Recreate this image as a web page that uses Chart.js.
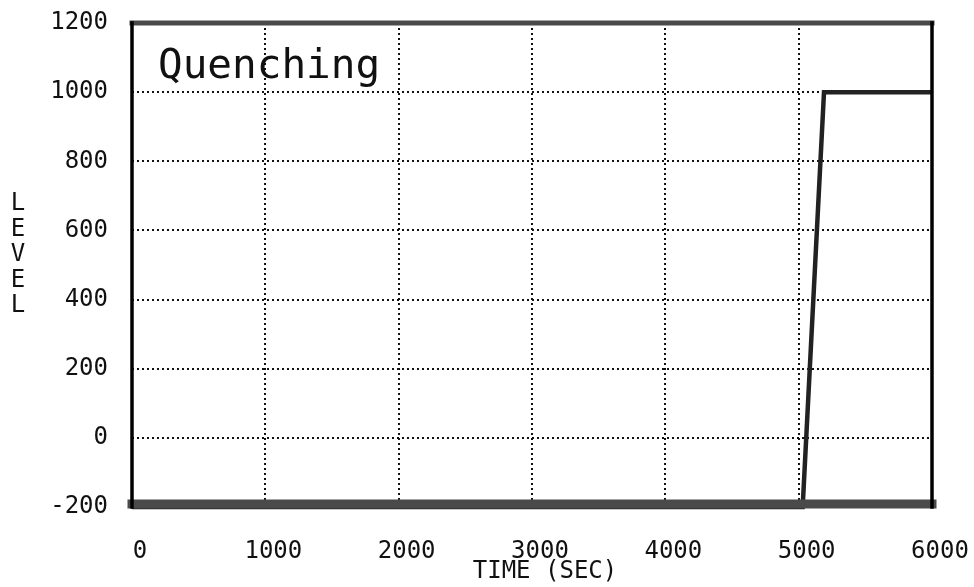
<!DOCTYPE html>
<html>
<head>
<meta charset="utf-8">
<script src="https://cdn.jsdelivr.net/npm/chart.js@4"></script>
<style>
  html, body { margin: 0; padding: 0; background: #fff; }
  #wrap { width: 974px; height: 587px; position: relative; }
</style>
</head>
<body>
<div id="wrap"><canvas id="c" width="974" height="587"></canvas></div>
<script>
// Data
const timeSec = [0, 5030, 5190, 6000];
const levelValues = [-200, -200, 1000, 1000];
const xTicks = [0, 1000, 2000, 3000, 4000, 5000, 6000];
const yTicks = [-200, 0, 200, 400, 600, 800, 1000, 1200];
const chartTitle = 'Quenching';
const xTitle = 'TIME (SEC)';
const yTitle = 'LEVEL';

const MONO = '"DejaVu Sans Mono", "Liberation Mono", monospace';

const points = timeSec.map((t, i) => ({ x: t, y: levelValues[i] }));

const decor = {
  id: 'decor',
  afterDatasetsDraw(chart) {
    const { ctx, chartArea: a } = chart;
    ctx.save();
    // frame
    ctx.lineCap = 'square';
    ctx.strokeStyle = '#4a4a4a';
    ctx.lineWidth = 5;
    ctx.beginPath(); ctx.moveTo(a.left, a.top); ctx.lineTo(a.right, a.top); ctx.stroke();
    ctx.lineWidth = 9;
    ctx.beginPath(); ctx.moveTo(a.left, a.bottom - 3); ctx.lineTo(a.right, a.bottom - 3); ctx.stroke();
    ctx.strokeStyle = '#000';
    ctx.lineWidth = 3.5;
    ctx.beginPath(); ctx.moveTo(a.left, a.top); ctx.lineTo(a.left, a.bottom); ctx.stroke();
    ctx.beginPath(); ctx.moveTo(a.right, a.top); ctx.lineTo(a.right, a.bottom); ctx.stroke();
    // in-plot title
    ctx.fillStyle = '#111';
    ctx.font = '41px ' + MONO;
    ctx.textAlign = 'left';
    ctx.textBaseline = 'alphabetic';
    ctx.fillText(chartTitle, 158, 78);
    // x axis title
    ctx.font = '24px ' + MONO;
    ctx.textAlign = 'center';
    ctx.textBaseline = 'middle';
    ctx.fillText(xTitle, 545, 572);
    // y axis title, stacked letters
    ctx.font = '24px ' + MONO;
    const letters = yTitle.split('');
    letters.forEach((ch, i) => ctx.fillText(ch, 18, 204 + i * 25.5));
    ctx.restore();
  }
};

new Chart(document.getElementById('c'), {
  type: 'line',
  data: {
    datasets: [{
      data: points,
      borderColor: '#222',
      borderWidth: 4.5,
      pointRadius: 0,
      tension: 0,
      clip: 10
    }]
  },
  options: {
    responsive: false,
    animation: false,
    devicePixelRatio: 1,
    layout: { padding: { left: 0, right: 42, top: 23, bottom: 0 } },
    plugins: { legend: { display: false }, tooltip: { enabled: false }, title: { display: false } },
    scales: {
      x: {
        type: 'linear',
        min: 0, max: 6000,
        afterFit(s) { s.height = 80; s.paddingLeft = 0; s.paddingRight = 0; },
        afterBuildTicks(s) { s.ticks = xTicks.map(v => ({ value: v })); },
        ticks: {
          color: '#111',
          font: { family: MONO, size: 24 },
          padding: 30,
          labelOffset: 8,
          maxRotation: 0,
          callback: v => String(v)
        },
        grid: {
          color: '#111',
          lineWidth: 2,
          drawTicks: false
        },
        border: { display: false, dash: [2, 3] }
      },
      y: {
        type: 'linear',
        min: -200, max: 1200,
        afterFit(s) { s.width = 132; s.paddingTop = 0; s.paddingBottom = 0; },
        afterBuildTicks(s) { s.ticks = yTicks.map(v => ({ value: v })); },
        ticks: {
          color: '#111',
          font: { family: MONO, size: 24 },
          padding: 24,
          callback: v => String(v)
        },
        grid: {
          color: '#111',
          lineWidth: 2,
          drawTicks: false
        },
        border: { display: false, dash: [2, 3] }
      }
    }
  },
  plugins: [decor]
});
</script>
</body>
</html>
